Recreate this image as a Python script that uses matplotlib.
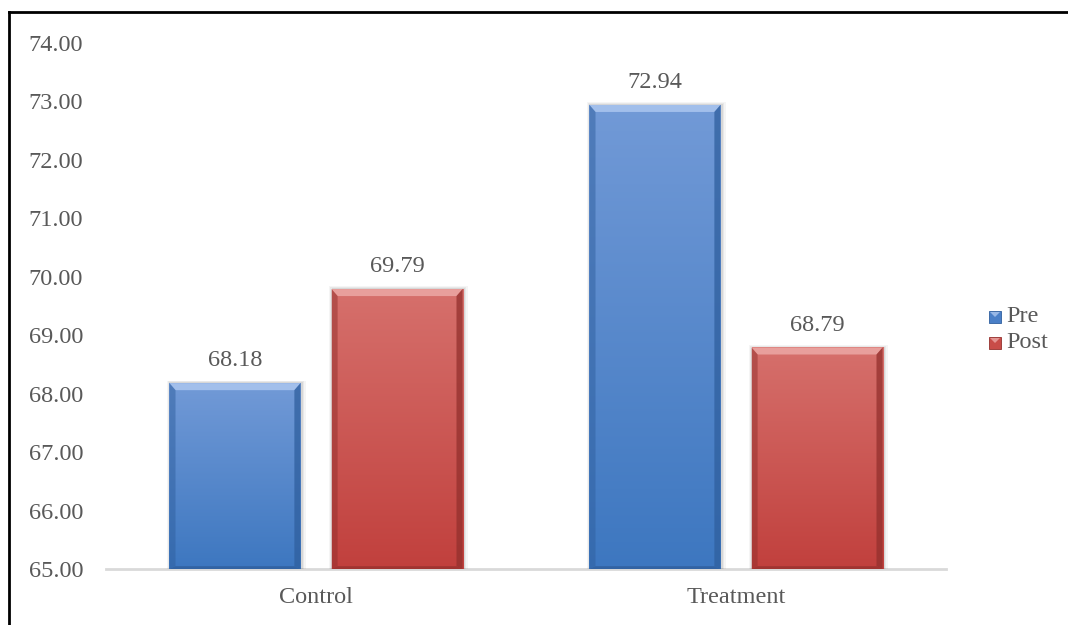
import numpy as np
import matplotlib
matplotlib.use("Agg")
import matplotlib.pyplot as plt
from matplotlib.patches import Polygon, Rectangle
from matplotlib.colors import LinearSegmentedColormap
from matplotlib.lines import Line2D

categories = ["Control", "Treatment"]
series_names = ["Pre", "Post"]
pre_values = [68.18, 72.94]
post_values = [69.79, 68.79]
y_ticks = [65.00, 66.00, 67.00, 68.00, 69.00, 70.00, 71.00, 72.00, 73.00, 74.00]

plt.rcParams["font.family"] = ["Liberation Serif", "DejaVu Serif"]
text_color = "#595959"
fs = 17.5

W, H = 1068, 625
fig = plt.figure(figsize=(W / 100, H / 100), dpi=100)
ax = fig.add_axes([106 / W, (H - 569) / H, 840 / W, (569 - 43) / H])

x = np.arange(len(categories))
width = 0.312
offset = 0.193

styles = {
    "Pre": dict(top="#729ad7", bottom="#3d77c0", bevel_top="#abc6ef", bevel_side="#2f5f9e",
                bevel_bot="#2c5690", legend="#4a7fc7"),
    "Post": dict(top="#d6706c", bottom="#c1403d", bevel_top="#eca8a5", bevel_side="#93302d",
                 bevel_bot="#8a2c2a", legend="#c84c48"),
}

ymin = 65.0
bx = 0.0145   # bevel width in x (data units)
by = 0.12     # bevel height in y (data units)


def draw_bar(xc, val, st):
    left, right = xc - width / 2, xc + width / 2
    # soft shadow
    for k, a in zip([0.009, 0.006, 0.003], [0.04, 0.05, 0.07]):
        ax.add_patch(Rectangle((left - k + 0.003, ymin), width + 2 * k, val - ymin + k * 5,
                               facecolor="black", edgecolor="none", alpha=a, zorder=1))
    rect = Rectangle((left, ymin), width, val - ymin, facecolor="none", edgecolor="none", zorder=2)
    ax.add_patch(rect)
    cmap = LinearSegmentedColormap.from_list("g", [st["bottom"], st["top"]])
    grad = np.linspace(0, 1, 256).reshape(-1, 1)
    im = ax.imshow(grad, cmap=cmap, aspect="auto", origin="lower",
                   extent=(left, right, ymin, val), zorder=2, interpolation="bilinear")
    im.set_clip_path(rect)
    # bevel edges
    ax.add_patch(Polygon([(left, val), (right, val), (right - bx, val - by), (left + bx, val - by)],
                         closed=True, facecolor=st["bevel_top"], edgecolor="none", alpha=0.85, zorder=3))
    ax.add_patch(Polygon([(left, val), (left + bx, val - by), (left + bx, ymin + by * 0.4), (left, ymin)],
                         closed=True, facecolor=st["bevel_side"], edgecolor="none", alpha=0.5, zorder=3))
    ax.add_patch(Polygon([(right, val), (right - bx, val - by), (right - bx, ymin + by * 0.4), (right, ymin)],
                         closed=True, facecolor=st["bevel_side"], edgecolor="none", alpha=0.75, zorder=3))
    ax.add_patch(Polygon([(left, ymin), (right, ymin), (right - bx, ymin + by * 0.4), (left + bx, ymin + by * 0.4)],
                         closed=True, facecolor=st["bevel_bot"], edgecolor="none", alpha=0.6, zorder=3))
    ax.text(xc, val + 0.2, f"{val:.2f}", ha="center", va="bottom", fontsize=fs, color=text_color, zorder=4)


for i in range(len(categories)):
    draw_bar(x[i] - offset, pre_values[i], styles["Pre"])
    draw_bar(x[i] + offset, post_values[i], styles["Post"])

ax.set_xlim(-0.5, len(categories) - 0.5)
ax.set_ylim(65, 74)
ax.set_yticks(y_ticks)
ax.set_yticklabels([f"{v:.2f}" for v in y_ticks])
ax.set_xticks(x)
ax.set_xticklabels(categories)
ax.tick_params(axis="both", length=0, labelsize=fs, labelcolor=text_color)
ax.tick_params(axis="y", pad=16.5)
ax.tick_params(axis="x", pad=13)
for side in ["top", "right", "left"]:
    ax.spines[side].set_visible(False)
ax.spines["bottom"].set_color("#d9d9d9")
ax.spines["bottom"].set_linewidth(2)
ax.spines["bottom"].set_zorder(0)

# legend drawn by hand to keep the rows tight
legend_rows_y = [317, 343]
for name, yy in zip(series_names, legend_rows_y):
    st = styles[name]
    fig.add_artist(Rectangle((989 / W, (H - yy - 6) / H), 12 / W, 12 / H, transform=fig.transFigure,
                             facecolor=st["legend"], edgecolor=st["bevel_side"], linewidth=0.6))
    fig.add_artist(Polygon([(990 / W, (H - yy + 5) / H), (1000 / W, (H - yy + 5) / H), (995 / W, (H - yy) / H)],
                           closed=True, transform=fig.transFigure, facecolor=st["bevel_top"],
                           edgecolor="none", alpha=0.8))
    fig.text(1006 / W, (H - yy) / H, name, ha="left", va="center", fontsize=fs, color=text_color)

# outer chart border (top and left edges)
fig.add_artist(Line2D([9 / W, 1.0], [(H - 12) / H] * 2, color="black", linewidth=2,
                      transform=fig.transFigure))
fig.add_artist(Line2D([9 / W] * 2, [0.0, (H - 12) / H], color="black", linewidth=2,
                      transform=fig.transFigure))

fig.savefig("out.png", dpi=100, facecolor="white")
